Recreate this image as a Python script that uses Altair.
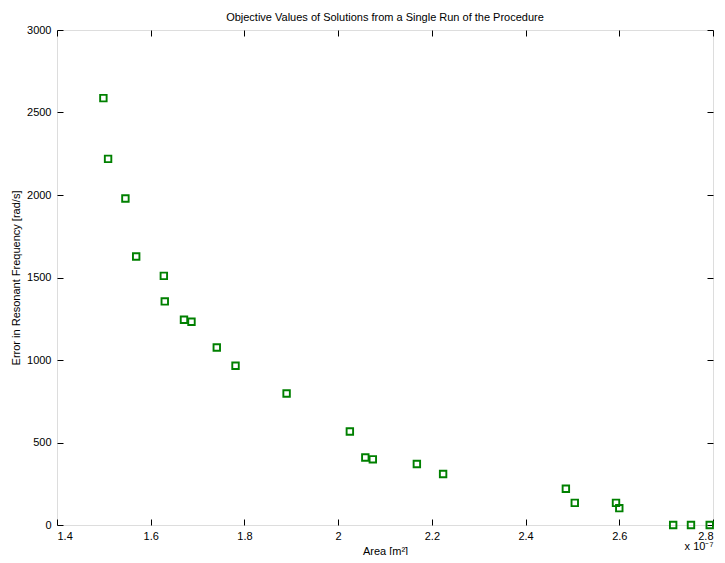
import altair as alt
import pandas as pd

# Area values in units of 1e-7 m^2
area_e7 = [1.499, 1.509, 1.546, 1.569, 1.628, 1.630, 1.671, 1.687, 1.741, 1.781,
           1.890, 2.025, 2.058, 2.074, 2.168, 2.224, 2.486, 2.505, 2.593, 2.600,
           2.715, 2.753, 2.793]
error = [2587, 2219, 1979, 1627, 1510, 1355, 1244, 1232, 1076, 965,
         797, 567, 409, 398, 370, 309, 220, 134, 134, 102,
         0, 0, 0]
x_ticks = [1.4, 1.6, 1.8, 2.0, 2.2, 2.4, 2.6, 2.8]
y_ticks = [0, 500, 1000, 1500, 2000, 2500, 3000]

df = pd.DataFrame({"area": area_e7, "error": error})

FONT = "Liberation Sans"
W, H = 656, 495
TS = 6

xs = alt.Scale(domain=[1.4, 2.8], nice=False, zero=False)
ys = alt.Scale(domain=[0, 3000], nice=False, zero=True)

common = dict(tickSize=TS, offset=-TS, domain=False, grid=False, tickColor="black",
              labelColor="black", labelFont=FONT, labelFontSize=11,
              titleFont=FONT, titleFontSize=11, titleFontWeight="normal", titleColor="black")

pts = alt.Chart(df).mark_point(
    shape="square", filled=False, color="#008000", size=42, strokeWidth=1.9, opacity=1
).encode(
    x=alt.X("area:Q", scale=xs,
            axis=alt.Axis(orient="bottom", values=x_ticks, format="~g", labelPadding=5,
                          title="Area [m²]", titlePadding=4, **common)),
    y=alt.Y("error:Q", scale=ys,
            axis=alt.Axis(orient="left", values=y_ticks, format="d", labelPadding=6,
                          title="Error in Resonant Frequency [rad/s]", titlePadding=5, **common)),
)

frame = alt.Chart(df).mark_point(opacity=0).encode(
    x=alt.X("area:Q", scale=xs,
            axis=alt.Axis(orient="top", values=x_ticks, labels=False, title=None, **common)),
    y=alt.Y("error:Q", scale=ys,
            axis=alt.Axis(orient="right", values=y_ticks, labels=False, title=None, **common)),
)

exp_text = alt.Chart(pd.DataFrame({"t": ["x 10⁻⁷"]})).mark_text(
    font=FONT, fontSize=11, color="black", align="center", baseline="middle"
).encode(x=alt.value(W - 14), y=alt.value(H + 22), text="t:N")

chart = alt.layer(frame, pts, exp_text).resolve_scale(
    x="independent", y="independent"
).properties(
    width=W, height=H,
    title=alt.TitleParams("Objective Values of Solutions from a Single Run of the Procedure",
                          font=FONT, fontSize=11, fontWeight="normal", color="black",
                          anchor="middle", offset=1),
    autosize=alt.AutoSizeParams(type="none"),
    padding={"left": 49, "top": 22, "right": 4, "bottom": 30},
).configure_view(stroke="black", strokeWidth=1).configure(background="white")

chart.save("out.html", embed_options={"renderer": "svg", "actions": False})
